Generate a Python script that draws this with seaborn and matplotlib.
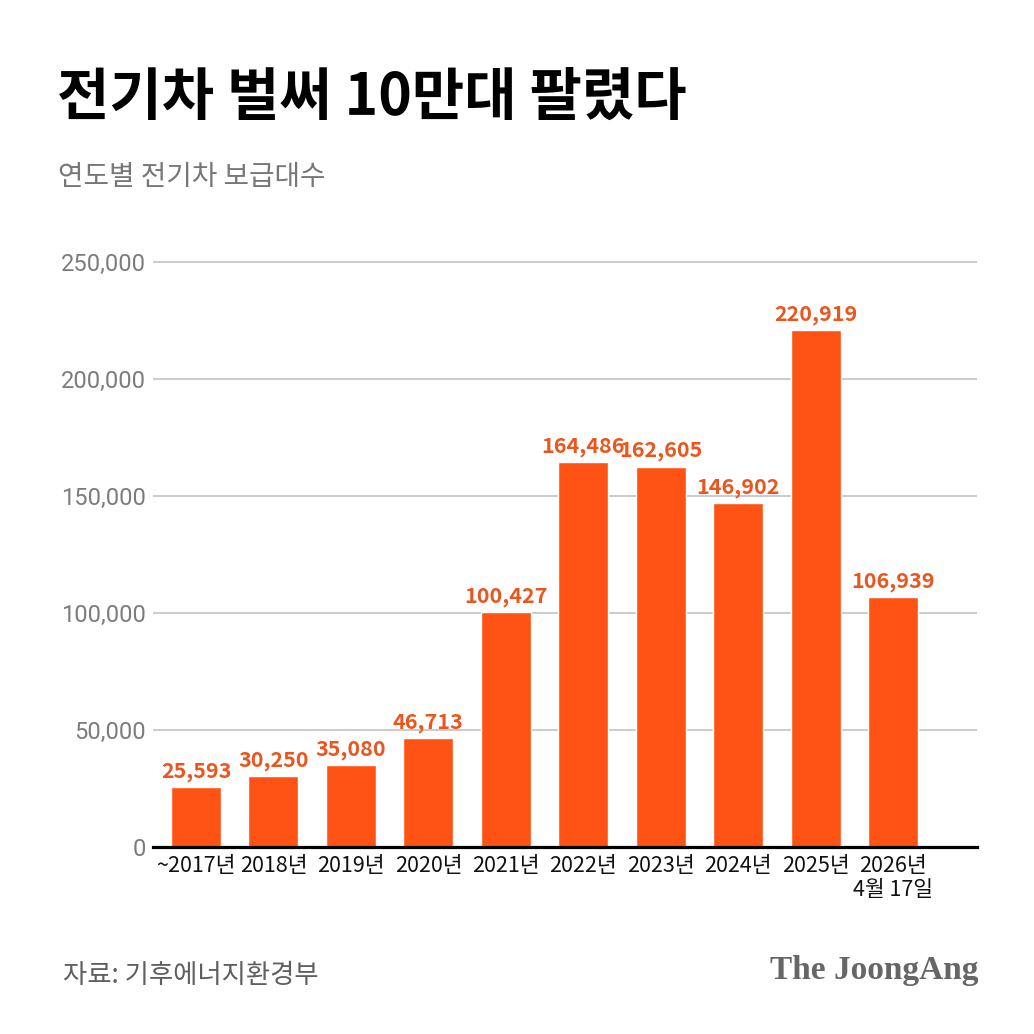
import matplotlib
matplotlib.use("Agg")
import matplotlib.pyplot as plt
import seaborn as sns
import pandas as pd

# ---- data ----
categories = ["~2017년", "2018년", "2019년", "2020년", "2021년", "2022년",
              "2023년", "2024년", "2025년", "2026년\n4월 17일"]
values = [25593, 30250, 35080, 46713, 100427, 164486, 162605, 146902, 220919, 106939]
yticks = [0, 50000, 100000, 150000, 200000, 250000]

title = "전기차 벌써 10만대 팔렸다"
subtitle = "연도별 전기차 보급대수"
source = "자료: 기후에너지환경부"
logo = "The JoongAng"

BAR = "#FF5316"
LABEL = "#E9561F"

sns.set_theme(style="white")
plt.rcParams["font.family"] = ["Noto Sans CJK KR", "DejaVu Sans"]

W = 1034
fig = plt.figure(figsize=(10.34, 10.34), dpi=100, facecolor="white")

ymax = 260000
y0_px, y250_px = 847, 262
px_per = (y0_px - y250_px) / 250000
top_px = y0_px - ymax * px_per
left_px, right_px = 153, 977
ax = fig.add_axes([left_px / W, 1 - y0_px / W, (right_px - left_px) / W, (y0_px - top_px) / W])

df = pd.DataFrame({"cat": categories, "val": values})
sns.barplot(data=df, x="cat", y="val", color=BAR, width=0.646, saturation=1, ax=ax, zorder=3)

c0, spacing = 196, (893 - 196) / 9
ax.set_xlim((left_px - c0) / spacing, (right_px - c0) / spacing)
ax.set_ylim(0, ymax)

ax.set_yticks(yticks)
ax.set_yticklabels([f"{v:,}" for v in yticks], color="#7c7c7c", fontsize=17,
                   family=["Roboto", "DejaVu Sans"], fontweight="normal")
ax.tick_params(axis="y", length=0, pad=5)
ax.tick_params(axis="x", length=0, pad=6)
for lab in ax.get_xticklabels():
    lab.set_fontsize(15.5)
    lab.set_color("#111111")
    lab.set_linespacing(1.1)
ax.set_xlabel("")
ax.set_ylabel("")

ax.grid(axis="y", color="#bdbdbd", linewidth=1.1, zorder=0)
ax.grid(axis="x", visible=False)
for s in ["top", "right", "left"]:
    ax.spines[s].set_visible(False)
ax.spines["bottom"].set_color("black")
ax.spines["bottom"].set_linewidth(2.3)
ax.spines["bottom"].set_zorder(4)
ax.set_facecolor("white")

for i, v in enumerate(values):
    ax.annotate(f"{v:,}", (i, v), xytext=(0, 7), textcoords="offset points",
                ha="center", va="baseline", fontsize=15.5, fontweight="bold",
                color=LABEL)

fig.text(57 / W, 1 - 116 / W, title, fontsize=41, fontweight="black",
         color="black", ha="left", va="baseline")
fig.text(58 / W, 1 - 185 / W, subtitle, fontsize=20, color="#777777",
         ha="left", va="baseline")
fig.text(63 / W, 1 - 983 / W, source, fontsize=19, color="#5f5f5f",
         ha="left", va="baseline")
fig.text(979 / W, 1 - 979 / W, logo, fontsize=24, fontweight="bold",
         family=["Liberation Serif", "DejaVu Serif"], color="#666666",
         ha="right", va="baseline")

fig.savefig("out.png", dpi=100, facecolor="white")
